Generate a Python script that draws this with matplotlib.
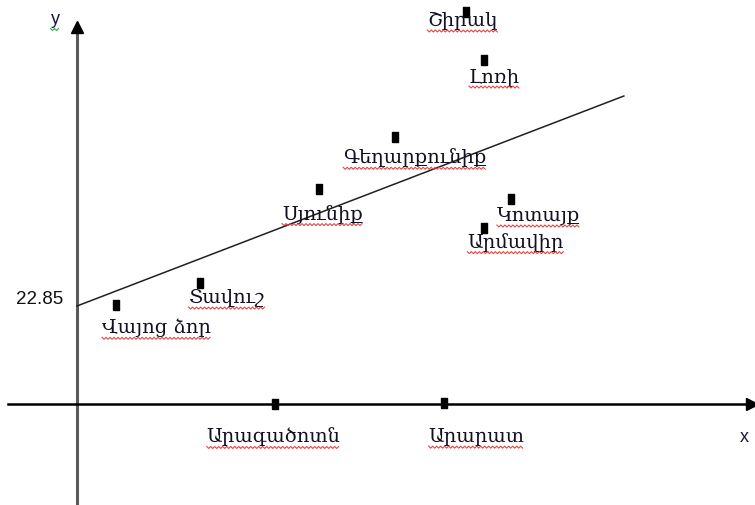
import numpy as np
import matplotlib
matplotlib.use("Agg")
import matplotlib.pyplot as plt
from matplotlib.lines import Line2D

# ---- data (chart units; origin at axes crossing) ----
regions = ["Շիրակ", "Լոռի", "Գեղարքունիք", "Սյունիք", "Կոտայք",
           "Արմավիր", "Տավուշ", "Վայոց ձոր", "Արագածոտն", "Արարատ"]
x_vals = [90.7, 94.9, 74.1, 56.4, 101.2, 94.9, 28.7, 9.1, 46.2, 85.6]
y_vals = [91.4, 80.2, 62.3, 50.1, 47.8, 41.0, 28.2, 23.1, 0.0, 0.2]
intercept = 22.85
slope = 0.384
line_x = [0.0, 127.5]
intercept_label = "22.85"

# label offsets in pixels (layout)
offsets = [(-3.5, -9), (10.5, -17), (20, -21), (3.5, -25), (27.5, -17),
           (31.5, -14), (26.5, -15), (40.5, -23), (-1.5, -33), (32.5, -34)]

W, H = 755, 505
px = 98 / 22.85  # pixels per chart unit
x0, y0 = 77, 404  # origin in pixels

fig = plt.figure(figsize=(W / 100, H / 100), dpi=100)
ax = fig.add_axes([0, 0, 1, 1])
ax.set_xlim(-x0 / px, (W - x0) / px)
ax.set_ylim(-(H - y0) / px, y0 / px)
ax.axis("off")

def P(xp, yp):
    return (xp - x0) / px, (y0 - yp) / px

# axes
ya = P(77, 505); yb = P(77, 26)
ax.plot([ya[0], yb[0]], [ya[1], yb[1]], color="#5a5a5a", lw=2.2, solid_capstyle="butt")
ax.plot(*P(77, 27), marker="^", color="black", markersize=9, mec="black")
xa = P(8, 404); xb = P(750, 404)
ax.plot([xa[0], xb[0]], [xa[1], xb[1]], color="black", lw=1.8)
ax.plot(*P(752, 404), marker=">", color="black", markersize=9)

# regression line
lx = np.array(line_x)
ax.plot(lx, intercept + slope * lx, color="#202020", lw=1.1)

rect = [(-0.35, -0.5), (0.35, -0.5), (0.35, 0.5), (-0.35, 0.5), (-0.35, -0.5)]
ax.plot(x_vals, y_vals, linestyle="none", marker=rect, markersize=7, color="black")

texts = []
for name, xv, yv, (dx, dy) in zip(regions, x_vals, y_vals, offsets):
    t = ax.annotate(name, (xv, yv), xytext=(dx, dy), textcoords="offset pixels",
                    ha="center", va="center", fontsize=14, color="#111122",
                    family=["DejaVu Serif", "DejaVu Sans"])
    texts.append(t)

ax.text(*P(40, 300), intercept_label, ha="center", va="center", fontsize=13.5,
        family=["Liberation Sans", "DejaVu Sans"], color="#111111")
ty = ax.text(*P(55, 20), "y", ha="center", va="center", fontsize=13,
             family=["Liberation Sans", "DejaVu Sans"], color="#1a1a40")
tx = ax.text(*P(744, 437), "x", ha="center", va="center", fontsize=13,
             family=["Liberation Sans", "DejaVu Sans"], color="#1a1a40")

# spell-check wavy underlines
fig.canvas.draw()
r = fig.canvas.get_renderer()

def wavy(t, color):
    bb = t.get_window_extent(r)
    xs = np.arange(bb.x0, bb.x1 + 0.1, 2.0)
    ys = bb.y0 - 1.0 + np.where(np.arange(len(xs)) % 2 == 0, 1.0, -1.0)
    fig.add_artist(Line2D(xs / W, ys / H, color=color, lw=0.8, transform=fig.transFigure))

for t in texts:
    wavy(t, "#e04848")
wavy(ty, "#3aa050")

fig.savefig("out.png", dpi=100)
